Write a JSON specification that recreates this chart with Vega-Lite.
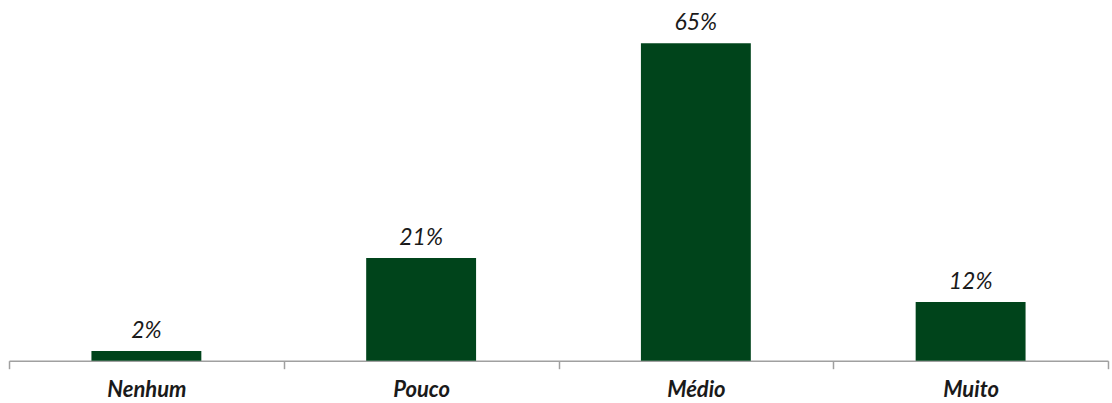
{
  "$schema": "https://vega.github.io/schema/vega-lite/v6.json",
  "width": 1099,
  "height": 351.7,
  "autosize": "none",
  "padding": {"left": 9, "top": 9, "right": 4, "bottom": 42},
  "background": "white",
  "data": {"values": [
    {"cat": "Nenhum", "pct": 2},
    {"cat": "Pouco", "pct": 21},
    {"cat": "Médio", "pct": 65},
    {"cat": "Muito", "pct": 12}
  ]},
  "config": {"view": {"stroke": null}, "font": "Lato"},
  "encoding": {
    "x": {"field": "cat", "type": "nominal", "sort": null,
      "scale": {"paddingInner": 0, "paddingOuter": 0},
      "axis": {"title": null, "labelAngle": 0, "tickBand": "extent", "domainColor": "#a0a0a0", "domainWidth": 1.5,
        "tickColor": "#a0a0a0", "tickWidth": 1.5, "tickSize": 8, "labelFont": "Lato", "labelFontStyle": "italic",
        "labelFontWeight": "bold", "labelFontSize": 22, "labelColor": "#1a1a1a", "labelPadding": 11}},
    "y": {"field": "pct", "type": "quantitative", "scale": {"domain": [0, 72]}, "axis": null}
  },
  "layer": [
    {"mark": {"type": "bar", "color": "#00441b", "width": {"band": 0.4}}},
    {"mark": {"type": "text", "baseline": "bottom", "dy": -8, "font": "Lato", "fontStyle": "italic", "fontSize": 23, "color": "#1a1a1a"},
      "encoding": {"text": {"field": "label"}},
      "transform": [{"calculate": "datum.pct + '%'", "as": "label"}]}
  ]
}
